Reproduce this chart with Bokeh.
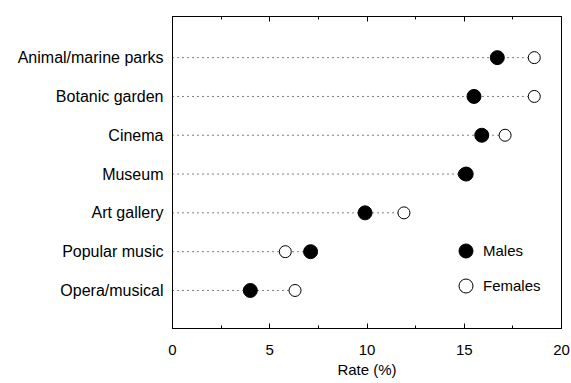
import numpy as np
from bokeh.plotting import figure
from bokeh.models import (ColumnDataSource, FixedTicker, LinearAxis, Range1d,
                          Legend, LegendItem)
from bokeh.embed import file_html
from bokeh.resources import INLINE

categories = ["Animal/marine parks", "Botanic garden", "Cinema", "Museum",
              "Art gallery", "Popular music", "Opera/musical"]
males = [16.7, 15.5, 15.9, 15.1, 9.9, 7.1, 4.0]
females = [18.6, 18.6, 17.1, 15.0, 11.9, 5.8, 6.3]
x_ticks = [0, 5, 10, 15, 20]
x_minor = [2.5, 7.5, 12.5, 17.5]

n = len(categories)
ypos = list(range(n, 0, -1))
src = ColumnDataSource(dict(
    y=ypos, m=males, f=females,
    x0=[0] * n, x1=list(np.maximum(males, females)),
))

FONT = "Liberation Sans"
p = figure(width=570, height=381, output_backend="svg", toolbar_location=None,
           x_range=Range1d(0, 20), y_range=Range1d(0.02, n + 1.06),
           min_border_left=172, min_border_right=9, min_border_top=16,
           min_border_bottom=53)
p.grid.visible = False
p.outline_line_color = "black"
p.outline_line_width = 1
p.background_fill_color = "white"
p.border_fill_color = "white"

p.segment(x0="x0", x1="x1", y0="y", y1="y", source=src, line_color="black",
          line_width=1, line_dash="1 4")
rf = p.scatter(x="f", y="y", source=src, size=12, fill_color="white",
               line_color="black", line_width=1)
rm = p.scatter(x="m", y="y", source=src, size=14, fill_color="black",
               line_color="black")

xa = p.xaxis[0]
xa.ticker = FixedTicker(ticks=x_ticks, minor_ticks=x_minor)
xa.axis_label = "Rate (%)"
xa.axis_label_text_font = FONT
xa.axis_label_text_font_style = "normal"
xa.axis_label_text_font_size = "15px"
xa.axis_label_text_color = "black"
xa.axis_label_standoff = 3
xa.major_label_text_font = FONT
xa.major_label_text_font_size = "15px"
xa.major_label_text_color = "black"
xa.major_label_standoff = 16
xa.major_tick_in = 5
xa.major_tick_out = 0
xa.minor_tick_in = 3
xa.minor_tick_out = 0
xa.axis_line_color = "black"

top = LinearAxis(ticker=FixedTicker(ticks=x_ticks, minor_ticks=x_minor),
                 major_label_text_color=None, major_tick_in=5, major_tick_out=0,
                 minor_tick_in=3, minor_tick_out=0)
p.add_layout(top, "above")

ya = p.yaxis[0]
ya.ticker = FixedTicker(ticks=ypos)
ya.major_label_overrides = {y: c for y, c in zip(ypos, categories)}
ya.major_label_text_font = FONT
ya.major_label_text_font_size = "16px"
ya.major_label_text_color = "black"
ya.major_tick_in = 0
ya.major_tick_out = 0
ya.minor_tick_in = 0
ya.minor_tick_out = 0
ya.major_label_standoff = 9
ya.axis_line_color = "black"

legend = Legend(items=[LegendItem(label="Males", renderers=[rm]),
                       LegendItem(label="Females", renderers=[rf])],
                location=(276, 25), orientation="vertical",
                border_line_color=None, background_fill_alpha=0,
                label_text_font=FONT, label_text_font_size="15px",
                label_text_color="black", label_text_baseline="top",
                glyph_width=35, glyph_height=35, label_height=35,
                spacing=0, padding=0, margin=0, label_standoff=-2)
p.add_layout(legend, "center")

open("out.html", "w").write(file_html(p, INLINE))
